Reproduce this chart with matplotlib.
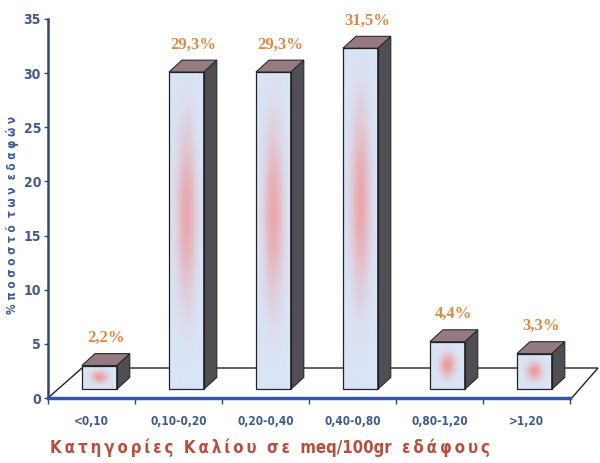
import numpy as np
import matplotlib.pyplot as plt
from matplotlib.patches import Polygon, Rectangle

categories = ["<0,10", "0,10-0,20", "0,20-0,40", "0,40-0,80", "0,80-1,20", ">1,20"]
values = [2.2, 29.3, 29.3, 31.5, 4.4, 3.3]
value_labels = ["2,2%", "29,3%", "29,3%", "31,5%", "4,4%", "3,3%"]
y_ticks = [0, 5, 10, 15, 20, 25, 30, 35]

sans = ["DejaVu Sans"]
serif = ["Liberation Serif", "DejaVu Serif"]
blue_txt = "#3f5a8c"

fig = plt.figure(figsize=(6, 4.63), dpi=100)
ax = fig.add_axes([48 / 600, 65 / 463, 552 / 600, 379 / 463])
ax.set_xlim(-0.5, -0.5 + 552 / 87)
ax.set_ylim(0, 35)

# box geometry (data units)
base = 0.8
off = -0.11
width = 0.40
dx, dy = 0.15, 1.1


def face_image(tall):
    h, w = 120, 40
    v = np.linspace(0, 1, h)[:, None]
    u = np.linspace(0, 1, w)[None, :]
    if tall:
        wt = np.exp(-((u - 0.5) / 0.28) ** 2) * np.exp(-((v - 0.55) / 0.26) ** 2) * 0.7
    else:
        wt = np.exp(-((u - 0.5) / 0.22) ** 2 - ((v - 0.5) / 0.24) ** 2) * 0.85
    blue = np.array([0.85, 0.90, 0.97])
    pink = np.array([0.95, 0.55, 0.55])
    img = blue * (1 - wt[..., None]) + pink * wt[..., None]
    return img


def spaced(text):
    # letter-spaced words, "meq/100gr" kept tight
    words = text.split(" ")
    out = [w if "/" in w else "\u2009".join(w) for w in words]
    return "  ".join(out)


# floor outline behind the boxes
floor = Polygon([(-0.5, 0), (-0.5 + 34 / 87, 2.77), (-0.5 + 550 / 87, 2.77), (5.52, 0)],
                closed=True, fill=False, edgecolor="#222222", lw=1.0, zorder=1,
                clip_on=False)
ax.add_patch(floor)

for i, val in enumerate(values):
    x0 = i + off
    x1 = x0 + width
    y0 = base
    y1 = base + val
    z = 3 + i
    front = Rectangle((x0, y0), width, val, facecolor="none", edgecolor="#222222",
                      lw=0.9, zorder=z + 0.2)
    ax.add_patch(front)
    im = ax.imshow(face_image(val > 10), extent=(x0, x1, y0, y1), origin="lower",
                   aspect="auto", zorder=z, interpolation="bicubic")
    im.set_clip_path(front)
    side = Polygon([(x1, y0), (x1 + dx, y0 + dy), (x1 + dx, y1 + dy), (x1, y1)],
                   closed=True, facecolor="#4f4f53", edgecolor="#2a2a2a", lw=0.8,
                   zorder=z)
    ax.add_patch(side)
    top = Polygon([(x0, y1), (x0 + dx, y1 + dy), (x1 + dx, y1 + dy), (x1, y1)],
                  closed=True, facecolor="#957a82", edgecolor="#2a2a2a", lw=0.8,
                  zorder=z + 0.1)
    ax.add_patch(top)
    ax.text(x0 + (width + dx) / 2, y1 + dy + 0.7, value_labels[i], ha="center",
            va="bottom", fontsize=12, fontweight="bold", color="#d98b45",
            family=serif, zorder=10, clip_on=False)

ax.set_xticks(np.arange(-0.5, 6, 1))
ax.set_xticklabels([])
ax.set_xticks(np.arange(6), minor=True)
ax.set_xticklabels(categories, minor=True, fontsize=8.5, fontweight="bold",
                   color=blue_txt, family=sans, fontstretch="condensed")
ax.tick_params(axis="x", which="major", length=4, width=1, color="#444444",
               direction="out")
ax.tick_params(axis="x", which="minor", length=0, pad=12)

ax.set_yticks(y_ticks)
ax.set_yticklabels([str(t) for t in y_ticks], fontsize=10, fontweight="bold",
                   color=blue_txt, family=sans, fontstretch="condensed")
ax.tick_params(axis="y", length=3, width=1, color="#34476e", pad=2)

for s in ["top", "right"]:
    ax.spines[s].set_visible(False)
ax.spines["left"].set_color("#34476e")
ax.spines["left"].set_linewidth(1.8)
ax.spines["bottom"].set_color("#3355a5")
ax.spines["bottom"].set_linewidth(2.5)
ax.spines["bottom"].set_bounds(-0.5, 5.5)
ax.spines["bottom"].set_zorder(20)
ax.patch.set_visible(False)

fig.text(13 / 600, 1 - 215 / 463, "% π ο σ ο σ τ ό  τ ω ν  ε δ α φ ώ ν",
         rotation=90, ha="center", va="center", fontsize=8.5, fontweight="bold",
         color="#3d5a9c", family=sans, fontstretch="condensed")
fig.text(270 / 600, 1 - 448 / 463,
         spaced("Κατηγορίες Καλίου σε meq/100gr εδάφους"),
         ha="center", va="center", fontsize=12, fontweight="bold",
         color="#b5503e", family=sans, fontstretch="condensed")

fig.savefig("out.png", dpi=100)
